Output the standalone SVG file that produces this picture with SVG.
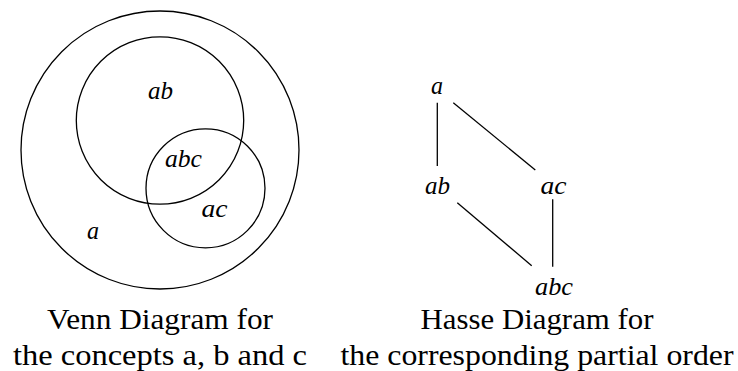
<svg xmlns="http://www.w3.org/2000/svg" width="738" height="371" viewBox="0 0 738 371">
<style>
.c{fill:none;stroke:#000;stroke-width:1.3}
.e{stroke:#000;stroke-width:1.3;fill:none}
.m{font-family:'Liberation Serif','DejaVu Serif',serif;font-style:italic;font-size:26px;fill:#000;text-anchor:middle}
.t{font-family:'Liberation Serif','DejaVu Serif',serif;font-size:29px;fill:#000;text-anchor:middle}
</style>
<rect width="738" height="371" fill="#fff"/>
<g id="venn">
<circle class="c" cx="160" cy="150" r="139"/>
<circle class="c" cx="160" cy="120.5" r="83.7"/>
<circle class="c" cx="205.5" cy="188.3" r="59.5"/>
<text class="m" x="160.5" y="99" textLength="25" lengthAdjust="spacingAndGlyphs">ab</text>
<text class="m" x="183.5" y="167" textLength="37" lengthAdjust="spacingAndGlyphs">abc</text>
<text class="m" x="214.5" y="217" textLength="26" lengthAdjust="spacingAndGlyphs">ac</text>
<text class="m" x="93" y="239" textLength="12" lengthAdjust="spacingAndGlyphs">a</text>
</g>
<g id="connectors">
<line class="e" x1="437.3" y1="102.7" x2="437.3" y2="166"/>
<line class="e" x1="453.3" y1="102.7" x2="535.3" y2="170"/>
<line class="e" x1="457.3" y1="202.7" x2="531.7" y2="265.7"/>
<line class="e" x1="552.7" y1="199.3" x2="552.7" y2="266.7"/>
</g>
<g id="node-a"><text class="m" x="437" y="94" textLength="12" lengthAdjust="spacingAndGlyphs">a</text></g>
<g id="node-ab"><text class="m" x="437.5" y="193.5" textLength="25" lengthAdjust="spacingAndGlyphs">ab</text></g>
<g id="node-ac"><text class="m" x="553.5" y="193.5" textLength="26" lengthAdjust="spacingAndGlyphs">ac</text></g>
<g id="node-abc"><text class="m" x="554" y="295" textLength="38" lengthAdjust="spacingAndGlyphs">abc</text></g>
<g id="captions">
<text class="t" x="160" y="329" textLength="226" lengthAdjust="spacingAndGlyphs">Venn Diagram for</text>
<text class="t" x="160" y="365" textLength="294" lengthAdjust="spacingAndGlyphs">the concepts a, b and c</text>
<text class="t" x="537" y="329" textLength="233" lengthAdjust="spacingAndGlyphs">Hasse Diagram for</text>
<text class="t" x="537" y="365" textLength="393" lengthAdjust="spacingAndGlyphs">the corresponding partial order</text>
</g>
</svg>
